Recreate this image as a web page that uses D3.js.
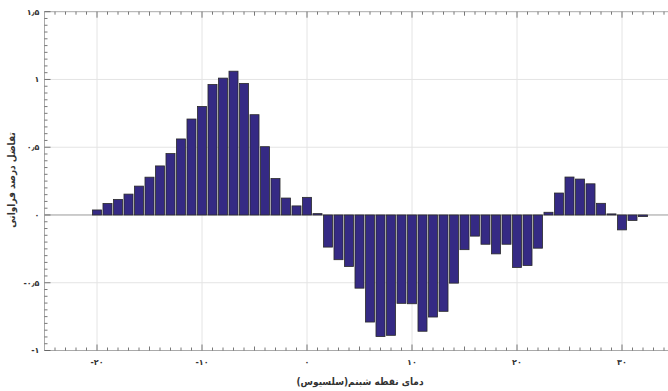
<!DOCTYPE html>
<html>
<head>
<meta charset="utf-8">
<script src="https://cdn.jsdelivr.net/npm/d3@7"></script>
<style>
  body { margin: 0; background: #fff; }
  svg { display: block; font-family: "DejaVu Sans", sans-serif; }
</style>
</head>
<body>
<svg width="668" height="391"></svg>
<script>
// dew point temperature (x) and frequency difference (y)
const temps = [-20, -19, -18, -17, -16, -15, -14, -13, -12, -11, -10, -9, -8, -7, -6, -5, -4, -3, -2, -1,
  0, 1, 2, 3, 4, 5, 6, 7, 8, 9, 10, 11, 12, 13, 14, 15, 16, 17, 18, 19, 20, 21, 22, 23, 24, 25, 26, 27, 28, 29, 30, 31, 32]
const diffs = [0.037, 0.085, 0.115, 0.154, 0.213, 0.279, 0.362, 0.453, 0.561, 0.708, 0.801, 0.963, 1.01, 1.061, 0.971, 0.74, 0.504, 0.269, 0.125, 0.067,
  0.13, 0.01, -0.237, -0.33, -0.38, -0.54, -0.79, -0.897, -0.888, -0.652, -0.655, -0.858, -0.753, -0.711, -0.503, -0.256, -0.156, -0.216, -0.287, -0.216,
  -0.387, -0.373, -0.245, 0.02, 0.162, 0.28, 0.265, 0.23, 0.086, 0.008, -0.11, -0.04, -0.012]

const xTicks = [-20, -10, 0, 10, 20, 30]
const xTickLabels = ["-۲۰", "-۱۰", "۰", "۱۰", "۲۰", "۳۰"]
const yTicks = [-1, -0.5, 0, 0.5, 1, 1.5]
const yTickLabels = ["-۱", "-۰٫۵", "۰", "۰٫۵", "۱", "۱٫۵"]

const xTitle = "دمای نقطه شبنم(سلسیوس)"
const yTitle = "تفاضل درصد فراوانی"

var svg = d3.select("svg")

var x = d3.scaleLinear().domain([-25, 34.5]).range([44.5, 669.25])
var y = d3.scaleLinear().domain([-1, 1.5]).range([350.5, 11.7])

var g = svg.append("g")

// grid
g.selectAll(".vgrid").data(xTicks).enter().append("line")
  .attr("x1", d => x(d)).attr("x2", d => x(d))
  .attr("y1", y(1.5)).attr("y2", y(-1))
  .attr("stroke", "#e4e4e4").attr("stroke-width", 1)

g.selectAll(".hgrid").data([-0.5, 0.5, 1]).enter().append("line")
  .attr("x1", x(-25)).attr("x2", x(34.5))
  .attr("y1", d => y(d)).attr("y2", d => y(d))
  .attr("stroke", "#e4e4e4").attr("stroke-width", 1)

// zero line
g.append("line")
  .attr("x1", x(-25)).attr("x2", x(34.5))
  .attr("y1", y(0)).attr("y2", y(0))
  .attr("stroke", "#999").attr("stroke-width", 1)

// bars
var bw = (x(1) - x(0)) * 0.86
g.selectAll("rect.bar").data(temps).enter().append("rect")
  .attr("class", "bar")
  .attr("x", d => x(d) - bw / 2)
  .attr("y", (d, i) => diffs[i] < 0 ? y(0) : y(diffs[i]))
  .attr("width", bw)
  .attr("height", (d, i) => Math.abs(y(diffs[i]) - y(0)))
  .attr("fill", "#352a84")
  .attr("stroke", "#2a2a2a")
  .attr("stroke-width", 0.8)

// frame axes
var minorX = d3.range(-25, 35, 1)
var minorY = d3.range(-1, 1.5001, 0.05)

function tickLen(v, step) {
  if (step == 1) return v % 10 == 0 ? 6 : (v % 5 == 0 ? 4 : 3)
  return Math.abs(v * 2 - Math.round(v * 2)) < 1e-6 ? 6 : 3
}

// bottom
var bottomAxis = g.append("g").attr("transform", "translate(0," + y(-1) + ")")
bottomAxis.append("line").attr("x1", x(-25)).attr("x2", x(34.5)).attr("stroke", "#aaa")
bottomAxis.selectAll("line.t").data(minorX).enter().append("line")
  .attr("x1", d => x(d)).attr("x2", d => x(d))
  .attr("y1", 0).attr("y2", d => -tickLen(d, 1))
  .attr("stroke", "#555").attr("stroke-width", 0.8)
bottomAxis.selectAll("text").data(xTicks).enter().append("text")
  .attr("x", d => x(d)).attr("y", 14)
  .attr("text-anchor", "middle")
  .attr("font-size", 8).attr("font-weight", "bold").attr("fill", "#333")
  .text((d, i) => xTickLabels[i])

// top
var topAxis = g.append("g").attr("transform", "translate(0," + y(1.5) + ")")
topAxis.append("line").attr("x1", x(-25)).attr("x2", x(34.5)).attr("stroke", "#aaa")
topAxis.selectAll("line.t").data(minorX).enter().append("line")
  .attr("x1", d => x(d)).attr("x2", d => x(d))
  .attr("y1", 0).attr("y2", d => tickLen(d, 1))
  .attr("stroke", "#555").attr("stroke-width", 0.8)

// left
var leftAxis = g.append("g").attr("transform", "translate(" + x(-25) + ",0)")
leftAxis.append("line").attr("y1", y(-1)).attr("y2", y(1.5)).attr("stroke", "#aaa")
leftAxis.selectAll("line.t").data(minorY).enter().append("line")
  .attr("y1", d => y(d)).attr("y2", d => y(d))
  .attr("x1", 0).attr("x2", d => tickLen(d, 0.05))
  .attr("stroke", "#555").attr("stroke-width", 0.8)
leftAxis.selectAll("text").data(yTicks).enter().append("text")
  .attr("x", -5).attr("y", d => y(d))
  .attr("dy", "0.35em")
  .attr("text-anchor", "end")
  .attr("font-size", 8).attr("font-weight", "bold").attr("fill", "#333")
  .text((d, i) => yTickLabels[i])

// titles
svg.append("text")
  .attr("x", 360).attr("y", 385)
  .attr("text-anchor", "middle")
  .attr("font-family", "'DejaVu Sans Condensed', 'DejaVu Sans', sans-serif")
  .attr("font-size", 10).attr("font-weight", "bold").attr("fill", "#333")
  .attr("direction", "rtl")
  .text(xTitle)

svg.append("text")
  .attr("transform", "translate(15," + 180 + ") rotate(-90)")
  .attr("text-anchor", "middle")
  .attr("font-family", "'DejaVu Sans Condensed', 'DejaVu Sans', sans-serif")
  .attr("font-size", 10).attr("font-weight", "bold").attr("fill", "#333")
  .text(yTitle)
</script>
</body>
</html>
